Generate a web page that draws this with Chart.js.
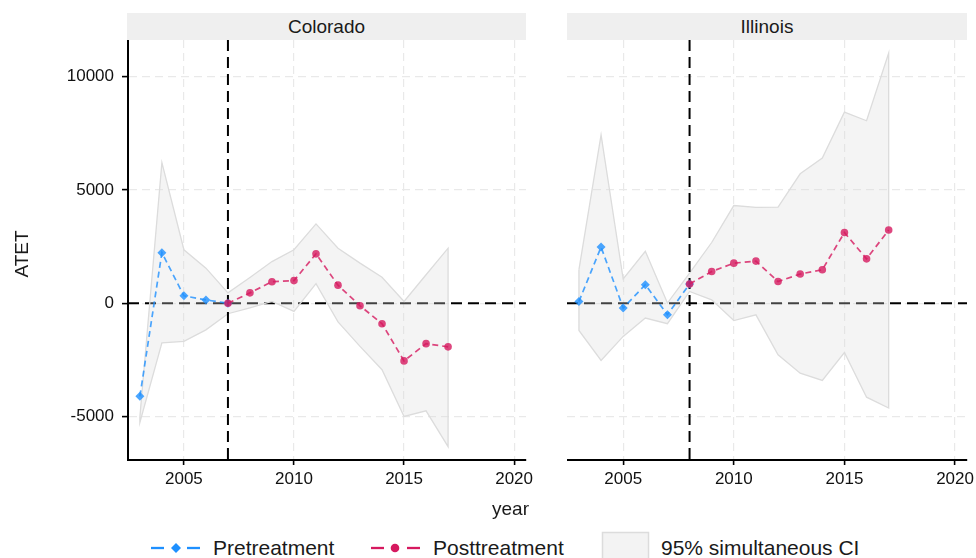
<!DOCTYPE html>
<html>
<head>
<meta charset="utf-8">
<script src="https://cdn.jsdelivr.net/npm/chart.js@4.4.1/dist/chart.umd.min.js"></script>
<style>
  body { margin: 0; width: 976px; height: 558px; overflow: hidden; background: #fff; position: relative;
         font-family: "Liberation Sans", Arial, sans-serif; color: #1a1a1a; }
  canvas { position: absolute; }
  .strip { position: absolute; top: 13px; height: 27px; background: #efefef; text-align: center;
           font-size: 19px; line-height: 27px; }
  .txt { position: absolute; white-space: nowrap; }
</style>
</head>
<body>
<div class="strip" style="left:127px;width:399px">Colorado</div>
<div class="strip" style="left:567px;width:400px">Illinois</div>

<canvas id="co" width="560" height="460" style="left:0;top:40px"></canvas>
<canvas id="il" width="420" height="460" style="left:567px;top:40px"></canvas>

<div class="txt" style="left:-8px;top:242px;width:60px;text-align:center;font-size:19px;line-height:24px;transform:rotate(-90deg)">ATET</div>
<div class="txt" style="left:429px;top:497px;width:100px;text-align:right;font-size:19px;line-height:24px">year</div>

<svg style="position:absolute;left:0;top:530px" width="976" height="28">
  <line x1="151" y1="18" x2="164" y2="18" stroke="#1e90ff" stroke-width="2.3"/>
  <line x1="187" y1="18" x2="200" y2="18" stroke="#1e90ff" stroke-width="2.3"/>
  <polygon points="176,13 181,18 176,23 171,18" fill="#1e90ff"/>
  <line x1="371" y1="18" x2="384" y2="18" stroke="#d6195f" stroke-width="2.3"/>
  <line x1="407" y1="18" x2="420" y2="18" stroke="#d6195f" stroke-width="2.3"/>
  <circle cx="395" cy="18" r="4.3" fill="#d6195f"/>
  <rect x="602.5" y="2.5" width="46" height="30" fill="#f3f3f3" stroke="#dcdcdc" stroke-width="1.5"/>
</svg>
<div class="txt" style="left:213px;top:536px;font-size:21px;line-height:24px">Pretreatment</div>
<div class="txt" style="left:433px;top:536px;font-size:21px;line-height:24px">Posttreatment</div>
<div class="txt" style="left:661px;top:536px;font-size:21px;line-height:24px">95% simultaneous CI</div>

<script>
// years covered by the confidence band
const years = [2003, 2004, 2005, 2006, 2007, 2008, 2009, 2010, 2011, 2012, 2013, 2014, 2015, 2016, 2017];
const xTicks = [2005, 2010, 2015, 2020];
const yTicks = [-5000, 0, 5000, 10000];

// Colorado (treated 2007)
const coTreat = 2007;
const coPreYears = [2003, 2004, 2005, 2006, 2007];
const coPre = [-4100, 2230, 330, 150, 0];
const coPostYears = [2007, 2008, 2009, 2010, 2011, 2012, 2013, 2014, 2015, 2016, 2017];
const coPost = [0, 460, 950, 1000, 2180, 800, -110, -900, -2540, -1780, -1920];
const coUpper = [-5000, 6200, 2360, 1550, 460, 1140, 1840, 2360, 3500, 2430, 1770, 1150, 80, 1260, 2430];
const coLower = [-5250, -1740, -1680, -1170, -460, -200, 80, -360, 870, -820, -1900, -2930, -4990, -4740, -6320];

// Illinois (treated 2008)
const ilTreat = 2008;
const ilPreYears = [2003, 2004, 2005, 2006, 2007, 2008];
const ilPre = [80, 2480, -210, 820, -500, 850];
const ilPostYears = [2008, 2009, 2010, 2011, 2012, 2013, 2014, 2015, 2016, 2017];
const ilPost = [850, 1400, 1770, 1860, 960, 1290, 1480, 3120, 1960, 3230];
const ilUpper = [1480, 7430, 1070, 2290, 10, 1330, 2680, 4310, 4230, 4240, 5710, 6400, 8430, 8050, 11030];
const ilLower = [-1200, -2520, -1460, -650, -900, 520, 150, -760, -510, -2270, -3080, -3400, -2170, -4140, -4620];

const preColor = "rgba(30, 144, 255, 0.8)";
const postColor = "rgba(214, 25, 95, 0.8)";

function pts(xs, ys) {
  return xs.map((x, i) => ({ x: x, y: ys[i] }));
}

// closed outline: upper forwards, lower backwards, back to start
function bandPts(upper, lower) {
  const up = pts(years, upper);
  const low = pts(years, lower).reverse();
  return up.concat(low, [up[0]]);
}

const refLines = {
  id: "refLines",
  beforeDatasetsDraw(chart) {
    const { ctx, chartArea } = chart;
    const y0 = chart.scales.y.getPixelForValue(0);
    ctx.save();
    ctx.strokeStyle = "#000";
    ctx.lineWidth = 2;
    ctx.setLineDash([11, 6]);
    ctx.beginPath();
    ctx.moveTo(chartArea.left, y0);
    ctx.lineTo(chartArea.right, y0);
    ctx.stroke();
    ctx.restore();
  },
  afterDatasetDraw(chart, args, opts) {
    if (args.index !== 0) return;
    const { ctx, chartArea } = chart;
    const x0 = chart.scales.x.getPixelForValue(opts.treat);
    ctx.save();
    ctx.strokeStyle = "#000";
    ctx.lineWidth = 2;
    ctx.setLineDash([11, 6]);
    ctx.beginPath();
    ctx.moveTo(x0, chartArea.top);
    ctx.lineTo(x0, chartArea.bottom);
    ctx.stroke();
    ctx.restore();
  },
};

function makePanel(id, treat, preYears, pre, postYears, post, upper, lower, showY) {
  const tickFont = { family: "'Liberation Sans', Arial, sans-serif", size: 17 };
  return new Chart(document.getElementById(id), {
    type: "line",
    data: {
      datasets: [
        {
          data: bandPts(upper, lower),
          order: 3,
          borderColor: "#dcdcdc",
          borderWidth: 1.3,
          backgroundColor: "rgba(219, 219, 219, 0.3)",
          fill: "shape",
          pointRadius: 0,
          tension: 0,
        },
        {
          data: pts(preYears, pre),
          order: 2,
          borderColor: preColor,
          borderWidth: 1.7,
          borderDash: [6, 4],
          pointStyle: "rectRot",
          pointRadius: 4.5,
          pointBackgroundColor: preColor,
          pointBorderWidth: 0,
          fill: false,
        },
        {
          data: pts(postYears, post),
          order: 1,
          borderColor: postColor,
          borderWidth: 1.7,
          borderDash: [6, 4],
          pointStyle: "circle",
          pointRadius: 3.8,
          pointBackgroundColor: postColor,
          pointBorderWidth: 0,
          fill: false,
        },
      ],
    },
    options: {
      responsive: false,
      animation: false,
      events: [],
      layout: { autoPadding: false, padding: { left: 0, top: 0, right: showY ? 34 : 20, bottom: 0 } },
      plugins: {
        legend: { display: false },
        tooltip: { enabled: false },
        refLines: { treat: treat },
      },
      scales: {
        x: {
          type: "linear",
          min: 2002.46,
          max: 2020.54,
          afterBuildTicks: (s) => { s.ticks = xTicks.map((v) => ({ value: v })); },
          afterFit: (s) => { s.height = 40; s.paddingLeft = 0; s.paddingRight = 0; },
          ticks: { font: tickFont, color: "#111", padding: 4, maxRotation: 0, callback: (v) => String(v) },
          grid: { color: "#e9e9e9", lineWidth: 1.2, tickLength: 5, tickColor: "#000", tickWidth: 1.6 },
          border: { display: true, color: "#000", width: 2, dash: [8, 5] },
        },
        y: {
          min: -6910,
          max: 11610,
          afterBuildTicks: (s) => { s.ticks = yTicks.map((v) => ({ value: v })); },
          afterFit: (s) => { s.width = showY ? 128 : 0; s.paddingTop = 0; s.paddingBottom = 0; },
          ticks: { display: showY, font: tickFont, color: "#111", padding: 8, callback: (v) => String(v) },
          grid: { color: "#e9e9e9", lineWidth: 1.2, drawTicks: showY, tickLength: 6, tickColor: "#000", tickWidth: 1.6 },
          border: { display: showY, color: "#000", width: 2, dash: [8, 5] },
        },
      },
    },
    plugins: [refLines],
  });
}

makePanel("co", coTreat, coPreYears, coPre, coPostYears, coPost, coUpper, coLower, true);
makePanel("il", ilTreat, ilPreYears, ilPre, ilPostYears, ilPost, ilUpper, ilLower, false);
</script>
</body>
</html>
